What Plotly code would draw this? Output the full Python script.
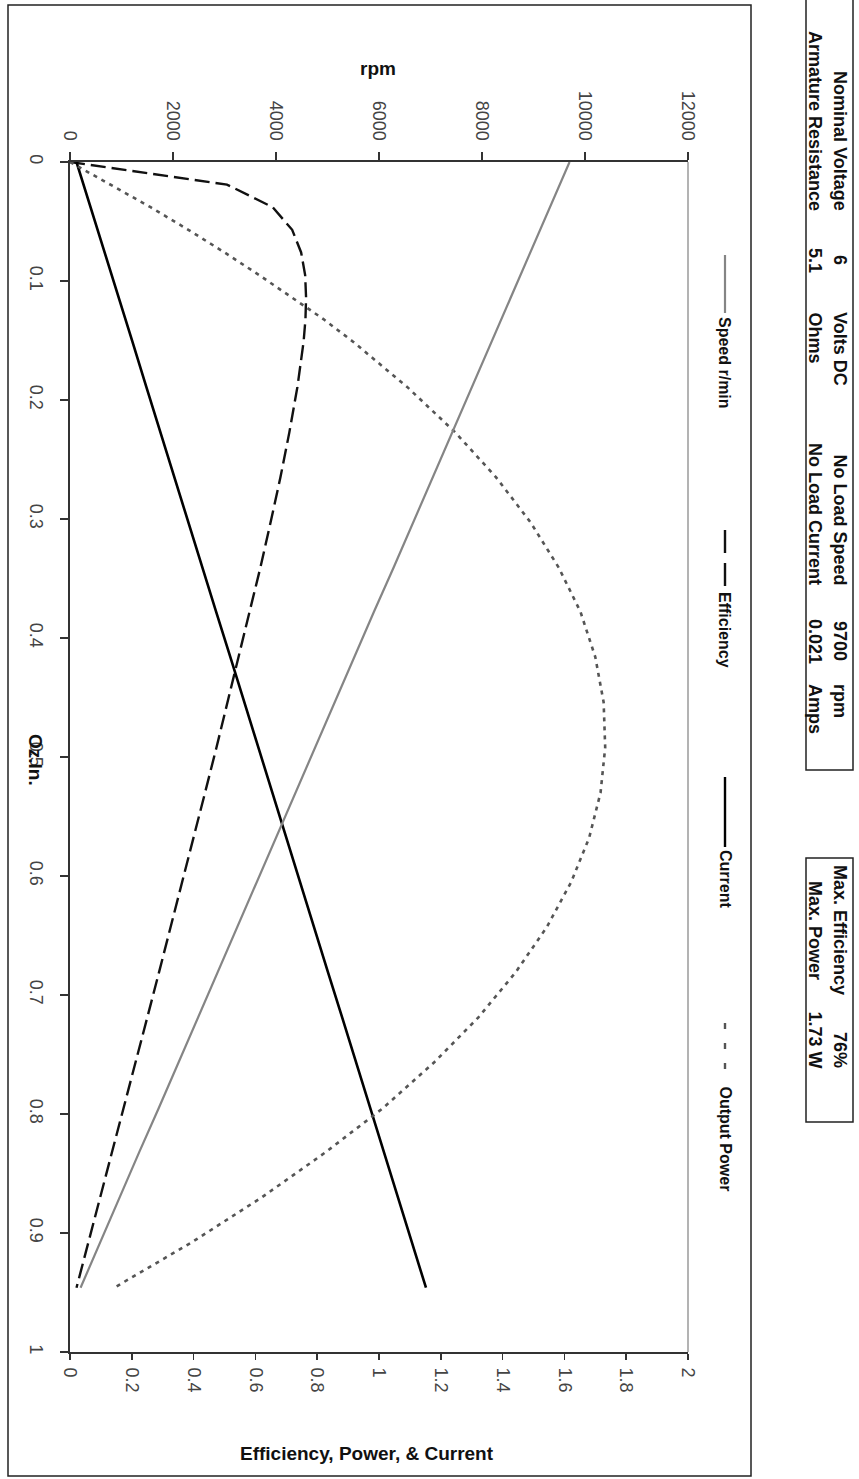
import plotly.graph_objects as go

# ---- data ----
torque_ozin = [0, 0.019, 0.038, 0.057, 0.076, 0.095, 0.114, 0.132, 0.151, 0.189,
               0.227, 0.265, 0.303, 0.341, 0.378, 0.416, 0.454, 0.492, 0.530, 0.568,
               0.605, 0.643, 0.681, 0.719, 0.757, 0.795, 0.832, 0.870, 0.908, 0.946]
speed_rpm = [9700, 9510, 9320, 9130, 8940, 8751, 8561, 8371, 8181, 7801,
             7421, 7041, 6662, 6282, 5902, 5522, 5142, 4763, 4383, 4003,
             3623, 3243, 2864, 2484, 2104, 1724, 1344, 965, 585, 205]
efficiency = [0, 0.508, 0.656, 0.719, 0.748, 0.761, 0.764, 0.762, 0.756, 0.736,
              0.710, 0.681, 0.649, 0.616, 0.581, 0.546, 0.510, 0.474, 0.437, 0.400,
              0.363, 0.326, 0.288, 0.250, 0.212, 0.174, 0.136, 0.098, 0.059, 0.021]
current_a = [0.021, 0.044, 0.066, 0.089, 0.111, 0.134, 0.157, 0.179, 0.202, 0.247,
             0.292, 0.338, 0.383, 0.428, 0.473, 0.519, 0.564, 0.609, 0.654, 0.700,
             0.745, 0.790, 0.835, 0.881, 0.926, 0.971, 1.016, 1.062, 1.107, 1.152]
power_w = [0, 0.133, 0.261, 0.383, 0.500, 0.612, 0.719, 0.820, 0.916, 1.091,
           1.246, 1.379, 1.491, 1.582, 1.652, 1.700, 1.727, 1.732, 1.717, 1.680,
           1.622, 1.543, 1.442, 1.321, 1.177, 1.013, 0.828, 0.621, 0.393, 0.143]

series_names = ["Speed r/min", "Efficiency", "Current", "Output Power"]
info_left = [("Nominal Voltage", "6", "Volts DC"), ("Armature Resistance", "5.1", "Ohms")]
info_right = [("No Load Speed", "9700", "rpm"), ("No Load Current", "0.021", "Amps")]
info_max = [("Max. Efficiency", "76%"), ("Max. Power", "1.73 W")]

W, H = 859, 1479
X0, X1, Y0, Y1 = 70, 688, 162, 1352


def px(x):
    return (x - X0) / (X1 - X0)


def py(y):
    return (Y1 - y) / (Y1 - Y0)


FONT = "Liberation Sans, Arial, sans-serif"
AX = "#333333"

fig = go.Figure()
fig.add_trace(go.Scatter(x=speed_rpm, y=torque_ozin, xaxis="x2", yaxis="y", mode="lines",
                         line=dict(color="#858585", width=2.2), name=series_names[0]))
fig.add_trace(go.Scatter(x=efficiency, y=torque_ozin, mode="lines",
                         line=dict(color="#111111", width=2.4, dash="15px,6px"), name=series_names[1]))
fig.add_trace(go.Scatter(x=current_a, y=torque_ozin, mode="lines",
                         line=dict(color="#000000", width=2.6), name=series_names[2]))
fig.add_trace(go.Scatter(x=power_w, y=torque_ozin, mode="lines",
                         line=dict(color="#555555", width=2.6, dash="4px,5px"), name=series_names[3]))

tickfont = dict(family=FONT, size=18, color="#444444")
fig.update_layout(
    width=W, height=H,
    margin=dict(l=X0, r=W - X1, t=Y0, b=H - Y1, pad=0),
    paper_bgcolor="white", plot_bgcolor="white",
    showlegend=False, hovermode=False,
    xaxis=dict(range=[0, 2], dtick=0.2, tick0=0, side="bottom", showgrid=False, zeroline=False,
               showline=True, linecolor=AX, linewidth=2, ticks="outside", ticklen=6,
               tickcolor=AX, tickwidth=1.5, tickangle=90, tickfont=tickfont,
               ticklabelstandoff=4),
    xaxis2=dict(range=[0, 12000], dtick=2000, tick0=0, side="top", overlaying="x", anchor="y",
                showgrid=False, zeroline=False, showline=True, linecolor=AX, linewidth=2,
                ticks="outside", ticklen=8, tickcolor=AX, tickwidth=1.5, tickangle=90,
                tickformat="d", tickfont=tickfont, ticklabelstandoff=5),
    yaxis=dict(range=[1, 0], dtick=0.1, tick0=0, showgrid=False, zeroline=False,
               showline=True, linecolor=AX, linewidth=2, ticks="outside", ticklen=8,
               tickcolor=AX, tickwidth=1.5, tickangle=90, tickfont=tickfont,
               ticklabelstandoff=8),
)

shapes = []
# right border of plot area (grey)
shapes.append(dict(type="line", xref="paper", yref="paper", x0=1, x1=1, y0=0, y1=1,
                   line=dict(color="#9a9a9a", width=1.5)))
# outer chart border
shapes.append(dict(type="rect", xref="paper", yref="paper", x0=px(8), x1=px(751),
                   y0=py(1476), y1=py(5), line=dict(color="#222222", width=1.5)))
# info boxes
shapes.append(dict(type="rect", xref="paper", yref="paper", x0=px(806), x1=px(853),
                   y0=py(770), y1=py(-3), line=dict(color="#222222", width=1.5)))
shapes.append(dict(type="rect", xref="paper", yref="paper", x0=px(806), x1=px(853),
                   y0=py(1122), y1=py(858), line=dict(color="#222222", width=1.5)))
# legend samples
leg = [
    (255, 313, 315, dict(color="#858585", width=2.2)),
    (530, 587, 590, dict(color="#111111", width=2.4, dash="23px,10px")),
    (777, 847, 848, dict(color="#000000", width=2.4)),
    (1023, 1083, 1085, dict(color="#555555", width=2.4, dash="6px,14px")),
]
for (ya, yb, yt, ln), name in zip(leg, series_names):
    shapes.append(dict(type="line", xref="paper", yref="paper", x0=px(725), x1=px(725),
                       y0=py(ya), y1=py(yb), line=ln))

ann = []
for (ya, yb, yt, ln), name in zip(leg, series_names):
    ann.append(dict(text="<b>" + name + "</b>", x=px(725), y=py(yt), xref="paper", yref="paper",
                    xanchor="center", yanchor="top", textangle=90, showarrow=False,
                    font=dict(family=FONT, size=16, color="#111111")))

BOXFONT = dict(family=FONT, size=18, color="#111111")
rows_x = [840, 815]
for (lab, val, unit), xx in zip(info_left, rows_x):
    ann.append(dict(text="<b>" + lab + "</b>", x=px(xx), y=py(213), xanchor="center", yanchor="bottom"))
    ann.append(dict(text="<b>" + val + "</b>", x=px(xx), y=py(260), xanchor="center", yanchor="middle"))
    ann.append(dict(text="<b>" + unit + "</b>", x=px(xx), y=py(310), xanchor="center", yanchor="top"))
for (lab, val, unit), xx in zip(info_right, rows_x):
    ann.append(dict(text="<b>" + lab + "</b>", x=px(xx), y=py(587), xanchor="center", yanchor="bottom"))
    ann.append(dict(text="<b>" + val + "</b>", x=px(xx), y=py(641), xanchor="center", yanchor="middle"))
    ann.append(dict(text="<b>" + unit + "</b>", x=px(xx), y=py(682), xanchor="center", yanchor="top"))
for (lab, val), xx in zip(info_max, rows_x):
    ann.append(dict(text="<b>" + lab + "</b>", x=px(xx), y=py(930), xanchor="center", yanchor="middle"))
    ann.append(dict(text="<b>" + val + "</b>", x=px(xx), y=py(1070), xanchor="center", yanchor="bottom"))
for a in ann[len(series_names):]:
    a.update(xref="paper", yref="paper", textangle=90, showarrow=False, font=BOXFONT)

# axis titles
ann.append(dict(text="<b>rpm</b>", x=px(378), y=py(68), xref="paper", yref="paper",
                xanchor="center", yanchor="middle", showarrow=False,
                font=dict(family=FONT, size=19, color="#111111")))
ann.append(dict(text="<b>Efficiency, Power, &amp; Current</b>", x=px(367), y=py(1453),
                xref="paper", yref="paper", xanchor="center", yanchor="middle", showarrow=False,
                font=dict(family=FONT, size=19, color="#111111")))
ann.append(dict(text="<b>Oz.In.</b>", x=px(36), y=py(760), xref="paper", yref="paper",
                xanchor="center", yanchor="middle", textangle=90, showarrow=False,
                font=dict(family=FONT, size=19, color="#111111")))

fig.update_layout(shapes=shapes, annotations=ann)
fig.write_html("out.html", config={"displayModeBar": False, "staticPlot": True},
               post_script="document.body.style.margin='0';document.body.style.overflow='hidden';")
